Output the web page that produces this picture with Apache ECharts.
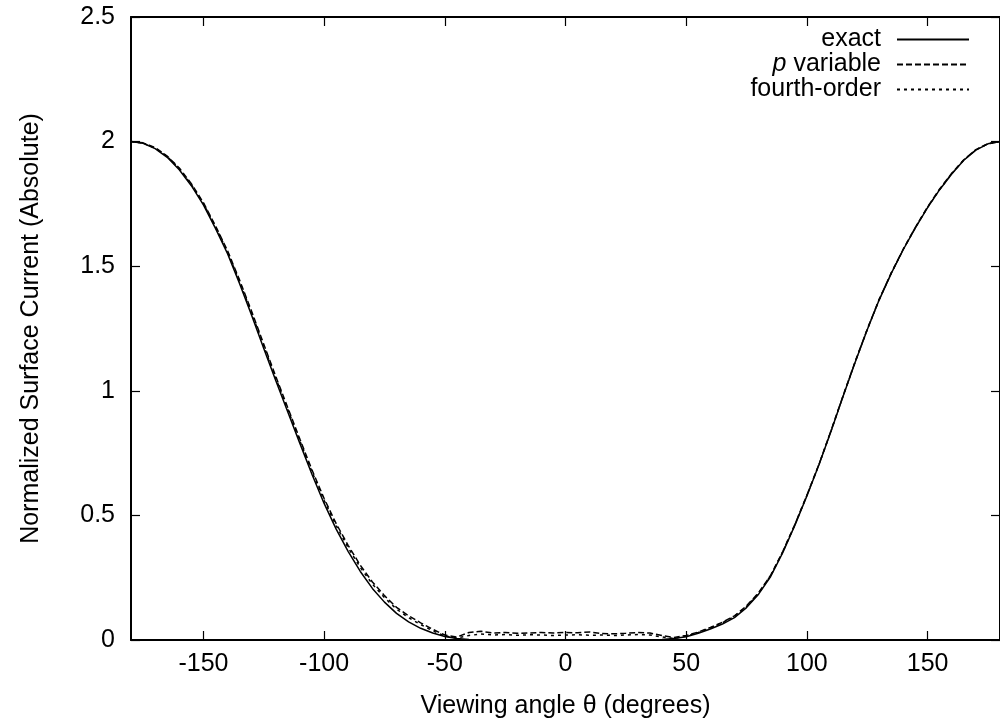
<!DOCTYPE html>
<html lang="en">
<head>
<meta charset="UTF-8">
<title>Normalized Surface Current</title>
<style>
  html,body{margin:0;padding:0;background:#fff;}
  #chart{width:1000px;height:727px;}
</style>
</head>
<body>
<div id="chart"></div>
<script src="https://cdn.jsdelivr.net/npm/echarts@6/dist/echarts.min.js"></script>
<script>
// viewing angle, degrees (-180 .. 180, step 5)
var theta = [-180,-175,-170,-165,-160,-155,-150,-145,-140,-135,-130,-125,-120,-115,-110,-105,-100,-95,-90,-85,-80,-75,-70,-65,-60,-55,-50,-45,-40,-35,-30,-25,-20,-15,-10,-5,
  0,5,10,15,20,25,30,35,40,45,50,55,60,65,70,75,80,85,90,95,100,105,110,115,120,125,130,135,140,145,150,155,160,165,170,175,180];

var exact = [2.000,1.993,1.972,1.937,1.887,1.823,1.746,1.652,1.550,1.430,1.302,1.170,1.040,0.914,0.788,0.664,0.548,0.445,0.355,0.275,0.207,0.152,0.107,0.073,0.047,0.028,0.014,0.006,0.002,0.000,0.000,0.000,0.000,0.000,0.000,0.000,
  0.000,0.000,0.000,0.000,0.000,0.000,0.000,0.000,0.002,0.006,0.013,0.027,0.044,0.064,0.090,0.130,0.184,0.255,0.350,0.460,0.578,0.703,0.838,0.978,1.115,1.245,1.366,1.472,1.568,1.655,1.735,1.807,1.870,1.925,1.966,1.991,2.000];

var pVariable = [2.000,1.995,1.976,1.942,1.894,1.831,1.755,1.662,1.562,1.444,1.318,1.187,1.057,0.931,0.805,0.682,0.568,0.467,0.379,0.300,0.233,0.178,0.131,0.097,0.069,0.043,0.020,0.012,0.030,0.035,0.028,0.030,0.027,0.028,0.030,0.028,
  0.030,0.029,0.032,0.026,0.025,0.027,0.030,0.028,0.018,0.010,0.018,0.032,0.050,0.071,0.097,0.137,0.190,0.260,0.355,0.463,0.581,0.705,0.840,0.980,1.117,1.247,1.368,1.474,1.570,1.657,1.738,1.810,1.873,1.927,1.968,1.992,2.000];

var fourthOrder = [2.000,1.994,1.974,1.940,1.891,1.828,1.751,1.658,1.557,1.438,1.311,1.180,1.050,0.924,0.798,0.675,0.560,0.459,0.370,0.291,0.224,0.170,0.124,0.090,0.062,0.037,0.016,0.008,0.018,0.024,0.020,0.022,0.019,0.021,0.020,0.018,
  0.020,0.021,0.019,0.020,0.018,0.020,0.022,0.020,0.012,0.006,0.016,0.030,0.048,0.069,0.095,0.134,0.187,0.258,0.353,0.462,0.580,0.704,0.839,0.979,1.116,1.246,1.367,1.473,1.569,1.656,1.736,1.808,1.871,1.926,1.967,1.991,2.000];

var xTicks = [-150,-100,-50,0,50,100,150];
var yTicks = [0,0.5,1,1.5,2,2.5];

function pairs(ys){
  return theta.map(function(t,i){ return [t, ys[i]]; });
}

var font = 'Liberation Sans, Arial, Helvetica, sans-serif';
var black = '#000';

function xAx(pos, labels){
  return {
    type:'value', position:pos, min:-180, max:180,
    axisLine:{show:true, onZero:false, lineStyle:{color:black, width:2}},
    axisTick:{show:true, inside:true, length:9, lineStyle:{color:black, width:1.2}, customValues:xTicks},
    axisLabel:{show:labels, customValues:xTicks, color:black, fontSize:25, fontFamily:font, margin:12},
    splitLine:{show:false}
  };
}
function yAx(pos, labels){
  return {
    type:'value', position:pos, min:0, max:2.5, interval:0.5,
    axisLine:{show:true, onZero:false, lineStyle:{color:black, width:2}},
    axisTick:{show:true, inside:true, length:9, lineStyle:{color:black, width:1.2}, customValues:yTicks},
    axisLabel:{show:labels, customValues:yTicks, color:black, fontSize:25, fontFamily:font, margin:16},
    splitLine:{show:false}
  };
}

var xMain = xAx('bottom', true);
xMain.name = 'Viewing angle θ (degrees)';
xMain.nameLocation = 'middle';
xMain.nameGap = 54;
xMain.nameTextStyle = {color:black, fontSize:25, fontFamily:font};

var yMain = yAx('left', true);
yMain.name = 'Normalized Surface Current (Absolute)';
yMain.nameLocation = 'middle';
yMain.nameGap = 87;
yMain.nameTextStyle = {color:black, fontSize:25, fontFamily:font};

function line(name, ys, type){
  return {
    name:name, type:'line', data:pairs(ys), symbol:'none', smooth:false,
    lineStyle:{color:black, width:1.5, type:type},
    itemStyle:{color:black}, animation:false
  };
}

var option = {
  backgroundColor:'#fff',
  animation:false,
  grid:{left:131, top:17, width:872, height:623},
  legend:{
    orient:'vertical', right:30, top:27, padding:0,
    align:'right', itemWidth:72, itemHeight:14, itemGap:0,
    itemStyle:{opacity:0},
    data:['exact','p variable','fourth-order'],
    formatter:function(n){ return n === 'p variable' ? '{i|p} {t|variable}' : '{t|' + n + '}'; },
    textStyle:{color:black, fontSize:25, fontFamily:font, lineHeight:25, padding:[0,11,0,0],
      rich:{
        i:{fontStyle:'italic', fontSize:25, fontFamily:font, color:black, lineHeight:25},
        t:{fontSize:25, fontFamily:font, color:black, lineHeight:25}
      }}
  },
  xAxis:[xMain, xAx('top', false)],
  yAxis:[yMain, yAx('right', false)],
  series:[
    line('exact', exact, 'solid'),
    line('p variable', pVariable, [6,3]),
    line('fourth-order', fourthOrder, [3,4])
  ]
};

var chart = echarts.init(document.getElementById('chart'), null, {renderer:'canvas'});
chart.setOption(option);
</script>
</body>
</html>
